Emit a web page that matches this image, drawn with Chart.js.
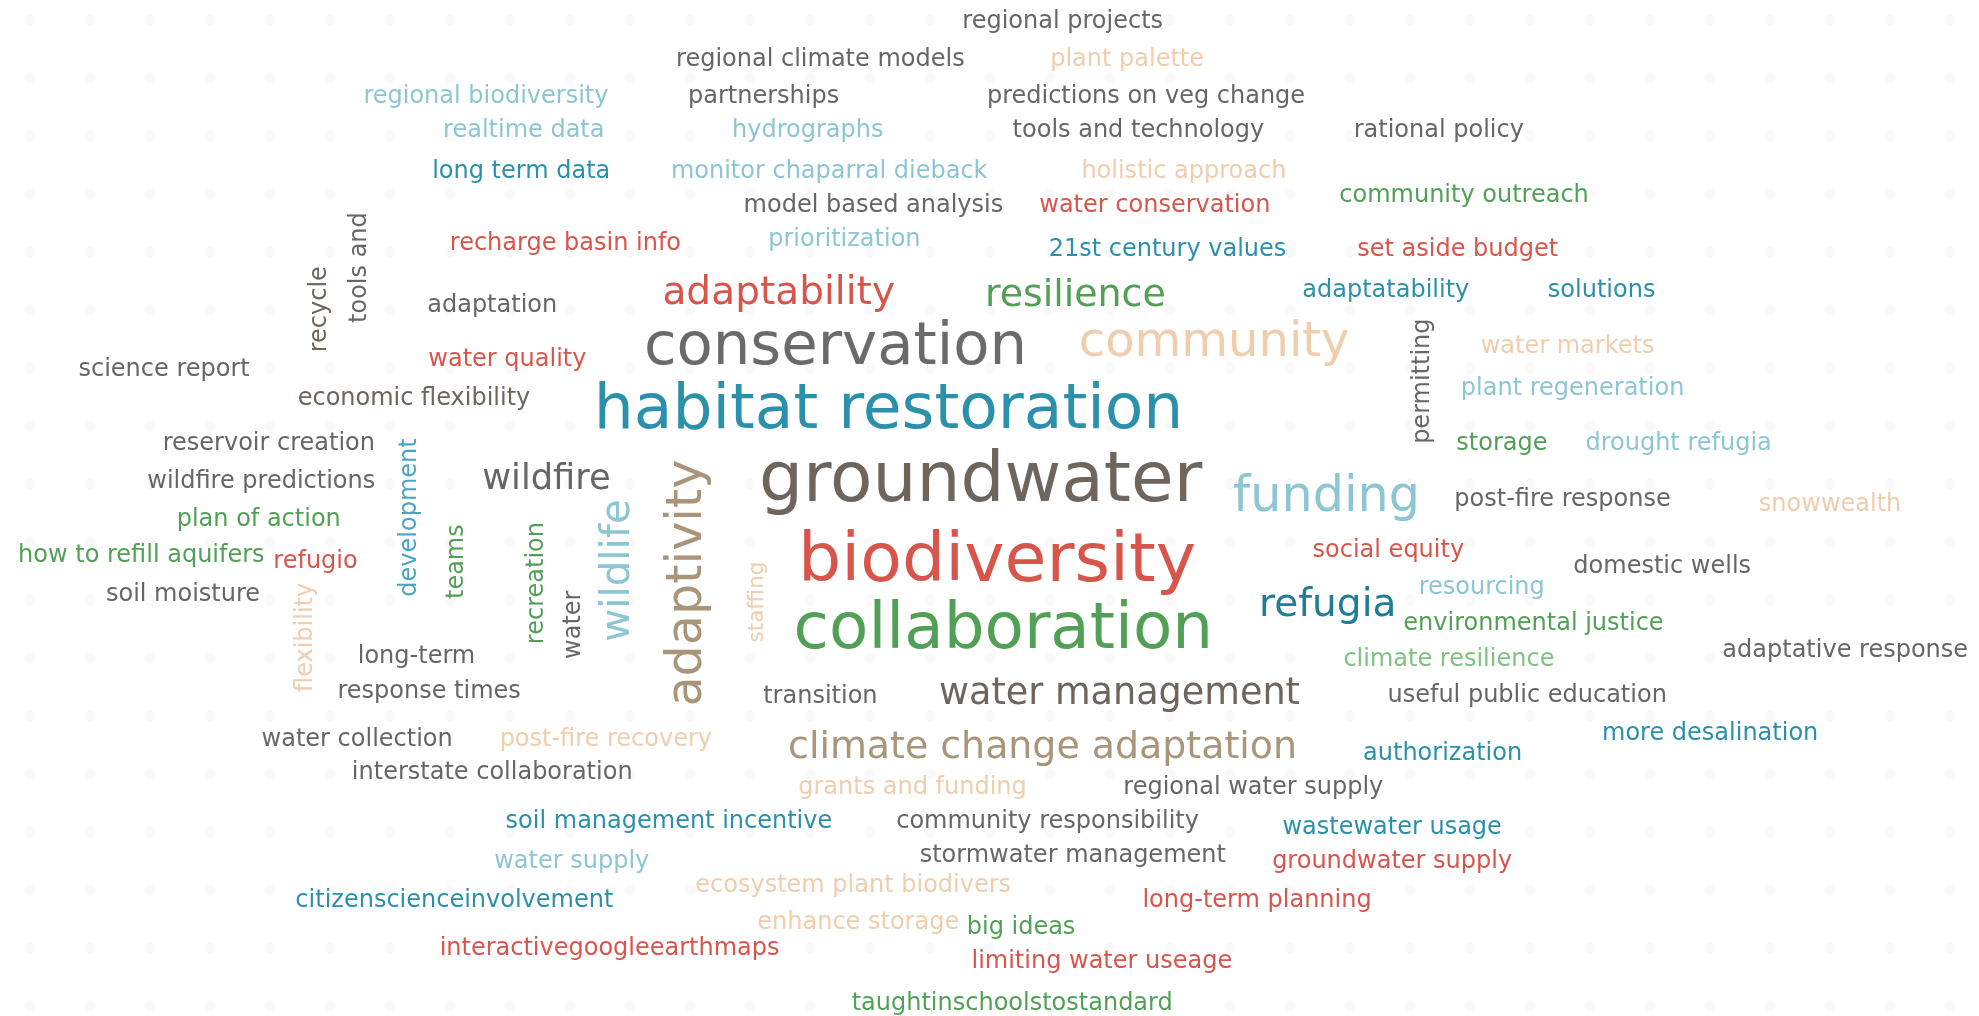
<!DOCTYPE html>
<html>
<head>
<meta charset="utf-8">
<script src="https://cdn.jsdelivr.net/npm/chart.js@4.4.1/dist/chart.umd.min.js"></script>
<style>
  html, body { margin: 0; padding: 0; background: #fff; }
  #wrap { width: 100vw; height: 100vh; }
</style>
</head>
<body>
<div id="wrap"><canvas id="cloud"></canvas></div>
<script>
// word cloud: each word is a scatter point, its label is drawn at the point
var words = [
  "regional projects", "regional climate models", "plant palette", "regional biodiversity", "partnerships",
  "predictions on veg change", "realtime data", "hydrographs", "tools and technology", "rational policy",
  "long term data", "monitor chaparral dieback", "holistic approach", "model based analysis", "water conservation",
  "community outreach", "recharge basin info", "prioritization", "21st century values", "set aside budget",
  "adaptability", "resilience", "adaptatability", "solutions", "adaptation",
  "conservation", "community", "science report", "water quality", "water markets",
  "economic flexibility", "plant regeneration", "habitat restoration", "reservoir creation", "storage",
  "drought refugia", "wildfire predictions", "wildfire", "groundwater", "funding",
  "post-fire response", "snowwealth", "plan of action", "how to refill aquifers", "refugio",
  "biodiversity", "social equity", "domestic wells", "resourcing", "soil moisture",
  "refugia", "environmental justice", "collaboration", "adaptative response", "climate resilience",
  "long-term", "response times", "transition", "water management", "useful public education",
  "more desalination", "water collection", "post-fire recovery", "climate change adaptation", "authorization",
  "interstate collaboration", "grants and funding", "regional water supply", "soil management incentive", "community responsibility",
  "wastewater usage", "water supply", "stormwater management", "groundwater supply", "ecosystem plant biodivers",
  "citizenscienceinvolvement", "long-term planning", "enhance storage", "big ideas", "interactivegoogleearthmaps",
  "limiting water useage", "taughtinschoolstostandard",
  "recycle", "tools and", "permitting", "development", "teams",
  "flexibility", "recreation", "water", "wildlife", "adaptivity", "staffing"
];

var xs = [
  842, 650, 893, 385, 605,
  908, 415, 640, 902, 1140,
  413, 657, 938, 692, 915,
  1160, 448, 669, 925, 1155,
  617, 852, 1098, 1269, 390,
  662, 962, 130, 402, 1242,
  328, 1246, 704, 213, 1190,
  1330, 207, 433, 777, 1051,
  1238, 1450, 205, 112, 250,
  790, 1100, 1317, 1174, 145,
  1052, 1215, 795, 1462, 1148,
  330, 340, 650, 887, 1210,
  1355, 283, 480, 826, 1143,
  390, 723, 993, 530, 830,
  1103, 453, 850, 1103, 676,
  360, 996, 680, 809, 483,
  873, 802,
  253, 285, 1127, 325, 362,
  242, 425, 455, 490, 545, 600
];

var ys = [
  17, 47, 47, 77, 77,
  77, 104, 104, 104, 104,
  136, 136, 136, 163, 163,
  155, 193, 190, 198, 198,
  233, 235, 230, 230, 242,
  276, 272, 293, 285, 275,
  316, 308, 326, 352, 352,
  352, 382, 380, 383, 395,
  396, 400, 412, 440, 445,
  446, 436, 449, 466, 471,
  480, 494, 500, 516, 523,
  520, 548, 552, 550, 551,
  581, 586, 586, 593, 597,
  612, 624, 624, 651, 651,
  656, 683, 678, 683, 702,
  714, 714, 731, 735, 752,
  762, 795,
  245, 212, 302, 410, 445,
  505, 462, 495, 452, 462, 477
];

// how often each word came up (drives the type size)
var counts = [
  19, 19, 19, 19, 19,
  19, 19, 19, 19, 19,
  19, 19, 19, 19, 19,
  19, 19, 19, 19, 19,
  31, 30, 19, 19, 19,
  47, 38, 19, 19, 19,
  19, 19, 50, 19, 19,
  19, 19, 28, 55, 39,
  19, 19, 19, 19, 19,
  54, 19, 19, 19, 19,
  31, 19, 51, 19, 19,
  19, 19, 19, 29, 19,
  19, 19, 19, 30, 19,
  19, 19, 19, 19, 19,
  19, 19, 19, 19, 19,
  19, 19, 19, 19, 19,
  19, 19,
  19, 19, 19, 19, 19,
  19, 19, 19, 32, 39, 17
];

// theme group of each word
var groups = [
  "gray", "gray", "peach", "light", "gray",
  "gray", "light", "light", "gray", "gray",
  "teal", "light", "peach", "gray", "red",
  "green", "red", "light", "teal", "red",
  "red", "green", "teal", "teal", "gray",
  "big", "peach", "gray", "red", "peach",
  "brown", "light", "teal", "gray", "green",
  "light", "gray", "gray", "brown", "light",
  "gray", "peach", "green", "green", "red",
  "red", "red", "gray", "light", "gray",
  "dark", "green", "green", "gray", "lgreen",
  "gray", "gray", "gray", "brown", "gray",
  "teal", "gray", "peach", "tan", "teal",
  "gray", "peach", "gray", "teal", "gray",
  "teal", "light", "gray", "red", "peach",
  "teal", "red", "peach", "green", "red",
  "red", "green",
  "brown", "gray", "gray", "blue", "green",
  "peach", "green", "gray", "light", "tan", "peach"
];

var verticalWords = ["recycle", "tools and", "permitting", "development", "teams",
  "flexibility", "recreation", "water", "wildlife", "adaptivity", "staffing"];

var palette = {
  gray: "#666666",
  big: "#6a6a6a",
  brown: "#6e655d",
  teal: "#2a90ab",
  dark: "#1f7d98",
  red: "#d8554b",
  green: "#52a056",
  lgreen: "#80c283",
  peach: "#efcdad",
  light: "#8cc6d4",
  blue: "#4aa5c5",
  tan: "#a8957a"
};

var pts = [];
for (var i = 0; i < words.length; i++) {
  pts.push({ x: xs[i], y: ys[i] });
}

var dots = {
  id: "dots",
  beforeDraw: function (chart) {
    var ctx = chart.ctx;
    ctx.save();
    ctx.fillStyle = "rgba(0,0,0,0.018)";
    for (var gx = 30; gx < chart.width; gx += 60) {
      for (var gy = 20; gy < chart.height; gy += 58) {
        ctx.beginPath();
        ctx.arc(gx, gy, 6, 0, Math.PI * 2);
        ctx.fill();
      }
    }
    ctx.restore();
  }
};

var labels = {
  id: "labels",
  afterDatasetsDraw: function (chart) {
    var ctx = chart.ctx;
    var meta = chart.getDatasetMeta(0);
    var k = chart.chartArea.width / 1568;
    ctx.save();
    ctx.textAlign = "center";
    ctx.textBaseline = "middle";
    meta.data.forEach(function (pt, i) {
      ctx.save();
      ctx.translate(pt.x, pt.y);
      if (verticalWords.indexOf(words[i]) >= 0) ctx.rotate(-Math.PI / 2);
      ctx.font = (counts[i] * k).toFixed(1) + "px 'DejaVu Sans'";
      ctx.fillStyle = palette[groups[i]];
      ctx.fillText(words[i], 0, 0);
      ctx.restore();
    });
    ctx.restore();
  }
};

new Chart(document.getElementById("cloud"), {
  type: "scatter",
  data: {
    datasets: [{ data: pts, pointRadius: 0, pointHoverRadius: 0 }]
  },
  options: {
    responsive: true,
    maintainAspectRatio: false,
    animation: false,
    layout: { padding: 0 },
    plugins: {
      legend: { display: false },
      tooltip: { enabled: false }
    },
    scales: {
      x: { type: "linear", min: 0, max: 1568, display: false },
      y: { type: "linear", min: 0, max: 805, reverse: true, display: false }
    }
  },
  plugins: [dots, labels]
});
</script>
</body>
</html>
